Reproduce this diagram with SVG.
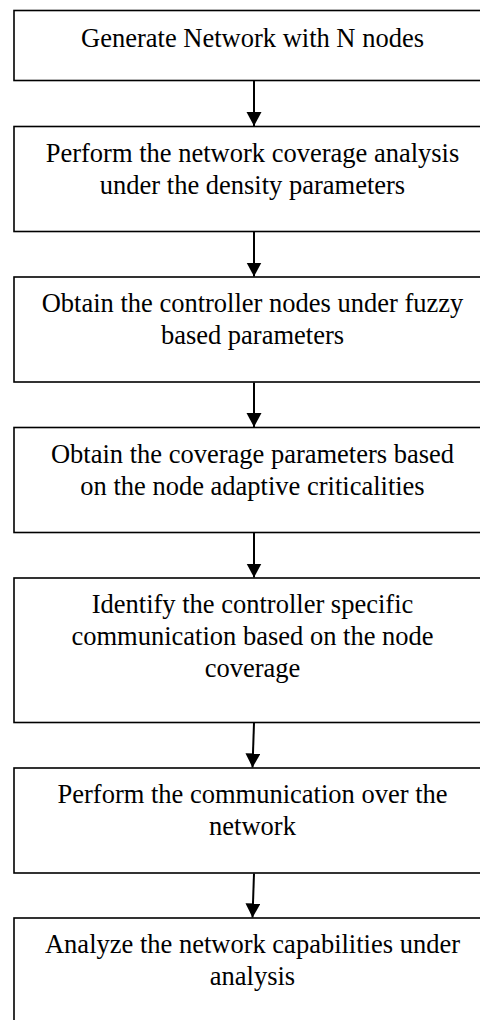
<svg xmlns="http://www.w3.org/2000/svg" width="480" height="1020" viewBox="0 0 480 1020">
  <style>
    .box { fill: #ffffff; stroke: #000000; stroke-width: 1.6; }
    .lbl { font-family: "Liberation Serif", "Times New Roman", serif; font-size: 26.5px; fill: #000000; text-anchor: middle; }
    .conn { stroke: #000000; stroke-width: 2; fill: none; }
  </style>
  <defs>
    <marker id="ah" markerUnits="userSpaceOnUse" markerWidth="15" markerHeight="16" refX="14" refY="7.5" orient="auto" viewBox="0 0 15 16">
      <path d="M0,0 L14,7.5 L0,15 Z" fill="#000000"/>
    </marker>
  </defs>
  <rect x="0" y="0" width="480" height="1020" fill="#ffffff"/>

  <g id="n1">
    <rect class="box" x="14" y="10.5" width="480" height="70"/>
    <text class="lbl" x="252.5" y="46.5">Generate Network with N nodes</text>
  </g>
  <g id="n2">
    <rect class="box" x="14" y="126.5" width="480" height="105"/>
    <text class="lbl" x="252.5" y="161.5">Perform the network coverage analysis</text>
    <text class="lbl" x="252.5" y="193.5">under the density parameters</text>
  </g>
  <g id="n3">
    <rect class="box" x="14" y="277" width="480" height="105"/>
    <text class="lbl" x="252.5" y="312">Obtain the controller nodes under fuzzy</text>
    <text class="lbl" x="252.5" y="344">based parameters</text>
  </g>
  <g id="n4">
    <rect class="box" x="14" y="427.5" width="480" height="105"/>
    <text class="lbl" x="252.5" y="462.5">Obtain the coverage parameters based</text>
    <text class="lbl" x="252.5" y="494.5">on the node adaptive criticalities</text>
  </g>
  <g id="n5">
    <rect class="box" x="14" y="578" width="480" height="144.5"/>
    <text class="lbl" x="252.5" y="613">Identify the controller specific</text>
    <text class="lbl" x="252.5" y="645">communication based on the node</text>
    <text class="lbl" x="252.5" y="677">coverage</text>
  </g>
  <g id="n6">
    <rect class="box" x="14" y="768" width="480" height="105"/>
    <text class="lbl" x="252.5" y="803">Perform the communication over the</text>
    <text class="lbl" x="252.5" y="835">network</text>
  </g>
  <g id="n7">
    <rect class="box" x="14" y="918" width="480" height="120"/>
    <text class="lbl" x="252.5" y="953">Analyze the network capabilities under</text>
    <text class="lbl" x="252.5" y="985">analysis</text>
  </g>

  <g id="connectors">
    <line class="conn" x1="254" y1="81" x2="254" y2="126" marker-end="url(#ah)"/>
    <line class="conn" x1="254" y1="232" x2="254" y2="276.5" marker-end="url(#ah)"/>
    <line class="conn" x1="254" y1="382.5" x2="254" y2="427" marker-end="url(#ah)"/>
    <line class="conn" x1="254" y1="533" x2="254" y2="577.5" marker-end="url(#ah)"/>
    <line class="conn" x1="254" y1="723" x2="252.5" y2="767.5" marker-end="url(#ah)"/>
    <line class="conn" x1="254" y1="873.5" x2="252.5" y2="917.5" marker-end="url(#ah)"/>
  </g>
</svg>
